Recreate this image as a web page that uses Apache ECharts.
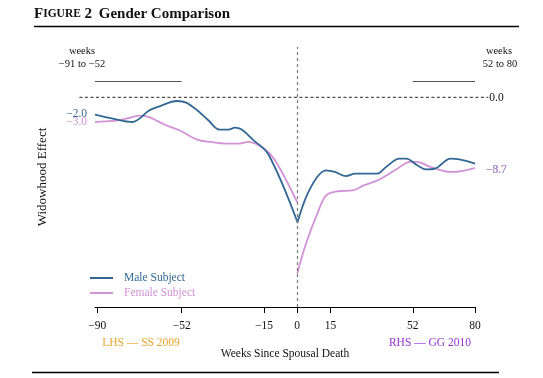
<!DOCTYPE html>
<html>
<head>
<meta charset="utf-8">
<script src="https://cdn.jsdelivr.net/npm/echarts@6/dist/echarts.min.js"></script>
<style>
html,body{margin:0;padding:0;background:#fff;}
#c{width:543px;height:378px;}
</style>
</head>
<body>
<div id="c"></div>
<script>
// ---- data ----
const xTicks = [-90, -52, -15, 0, 15, 52, 80];
const maleLhsWeeks = [-91, -83, -74, -71, -67, -62, -54, -50, -45, -40, -35, -31, -28, -25, -20, -13, 0];
const maleLhs = [-2.06, -2.54, -2.94, -2.54, -1.63, -1.07, -0.44, -0.63, -1.55, -2.74, -3.85, -3.85, -3.61, -3.85, -5.04, -6.79, -14.8];
const maleRhsWeeks = [0, 4, 9, 13, 17, 22, 26, 36, 40, 46, 49, 54, 58, 62, 69, 73, 80];
const maleRhs = [-15.0, -11.9, -9.5, -8.7, -8.9, -9.4, -9.1, -9.1, -8.3, -7.3, -7.3, -8.1, -8.6, -8.5, -7.3, -7.4, -7.9];
const femaleLhsWeeks = [-91, -83, -77, -71, -67, -59, -53, -45, -39, -32, -26, -22, -15, -10, 0];
const femaleLhs = [-2.94, -2.82, -2.54, -2.18, -2.34, -3.33, -3.93, -5.04, -5.32, -5.51, -5.51, -5.32, -6.11, -7.5, -12.5];
const femaleRhsWeeks = [0, 4, 9, 13, 18, 25, 30, 37, 44, 51, 54, 60, 69, 74, 80];
const femaleRhs = [-21.0, -17.4, -13.9, -11.7, -11.2, -11.1, -10.5, -9.8, -8.7, -7.7, -7.7, -8.3, -8.9, -8.8, -8.4];
const startLabels = { male: -2.0, female: -3.0 };
const endLabels = { male: -8.7, female: -8.7 };
const periodBarLevel = 1.9;
const periods = [[-91, -52], [52, 80]];
const zeroSpan = [-98, 86];

// ---- style ----
const SERIF = '"Liberation Serif", "DejaVu Serif", serif';
const BLUE = '#336894';
const PINK = '#d292d6';
const fmt = v => (v < 0 ? '\u2212' : '') + Math.abs(v).toFixed(1);
const fmtInt = v => (v < 0 ? '\u2212' : '') + Math.abs(v);

const zip = (a, b) => a.map((x, i) => [x, b[i]]);

const chart = echarts.init(document.getElementById('c'), null, { renderer: 'canvas' });

function lineSeries(name, data, color, extra) {
  return Object.assign({
    type: 'line', name, data, smooth: 0.35, symbol: 'none',
    lineStyle: { color, width: 1.8 }, itemStyle: { color },
    z: 3
  }, extra || {});
}

function labelPoint(coord, text, color, pos) {
  return {
    coord, value: text, symbolSize: 0,
    label: { show: true, position: pos, distance: pos === 'left' ? 8 : 11, formatter: text, color, fontFamily: SERIF, fontSize: 11.5 }
  };
}

const option = {
  animation: false,
  backgroundColor: '#fff',
  grid: { left: 95, right: 68, top: 47, bottom: 71 },
  legend: {
    orient: 'vertical', left: 90, top: 272, padding: 0,
    icon: 'rect',
    itemWidth: 23, itemHeight: 2, itemGap: 3,
    textStyle: { fontFamily: SERIF, fontSize: 11.5, padding: [0, 0, 0, 6] },
    data: [
      { name: 'Male Subject', textStyle: { color: BLUE } },
      { name: 'Female Subject', textStyle: { color: PINK } }
    ]
  },
  xAxis: {
    type: 'value', min: -91, max: 80,
    axisLine: { onZero: false, lineStyle: { color: '#000', width: 1 } },
    axisTick: { customValues: xTicks, length: 6, lineStyle: { color: '#000' } },
    axisLabel: { customValues: xTicks, formatter: fmtInt, fontFamily: SERIF, fontSize: 11.5, color: '#111', margin: 13 },
    splitLine: { show: false },
    name: 'Weeks Since Spousal Death', nameLocation: 'middle', nameGap: 41,
    nameTextStyle: { fontFamily: SERIF, fontSize: 11.5, color: '#111' }
  },
  yAxis: {
    type: 'value', min: -25, max: 6,
    axisLine: { show: false }, axisTick: { show: false }, axisLabel: { show: false }, splitLine: { show: false },
    name: 'Widowhood Effect', nameLocation: 'middle', nameGap: 46,
    nameTextStyle: { fontFamily: SERIF, fontSize: 13, color: '#111' }
  },
  series: [
    lineSeries('Male Subject', zip(maleLhsWeeks, maleLhs), BLUE, {
      markLine: {
        silent: true, symbol: 'none', label: { show: false },
        lineStyle: { color: '#777', type: [3, 3], width: 1.2 },
        data: [{ xAxis: 0 }]
      },
      markPoint: { data: [labelPoint([maleLhsWeeks[0], startLabels.male], fmt(startLabels.male), BLUE, 'left')] }
    }),
    lineSeries('Male Subject', zip(maleRhsWeeks, maleRhs), BLUE, {
      markPoint: { data: [labelPoint([maleRhsWeeks[maleRhsWeeks.length - 1], endLabels.male], fmt(endLabels.male), BLUE, 'right')] },
      markLine: {
        silent: true, symbol: 'none', label: { show: false },
        lineStyle: { color: '#555', type: 'solid', width: 1 },
        data: periods.map(p => [{ coord: [p[0], periodBarLevel] }, { coord: [p[1], periodBarLevel] }])
      }
    }),
    lineSeries('Female Subject', zip(femaleLhsWeeks, femaleLhs), PINK, {
      z: 2,
      markPoint: { data: [labelPoint([femaleLhsWeeks[0], startLabels.female], fmt(startLabels.female), PINK, 'left')] }
    }),
    lineSeries('Female Subject', zip(femaleRhsWeeks, femaleRhs), PINK, {
      z: 2,
      markPoint: { data: [labelPoint([femaleRhsWeeks[femaleRhsWeeks.length - 1], endLabels.female], fmt(endLabels.female), PINK, 'right')] }
    })
  ]
};
chart.setOption(option);

// ---- annotations computed through the axes ----
const zA = chart.convertToPixel({ gridIndex: 0 }, [zeroSpan[0], 0]);
const zB = chart.convertToPixel({ gridIndex: 0 }, [zeroSpan[1], 0]);
const txt = (x, y, text, color, size, align, extra) => ({
  type: 'text', x, y, silent: true,
  style: Object.assign({ text, fill: color, font: size + 'px ' + SERIF, textAlign: align || 'left', textVerticalAlign: 'middle' }, extra || {})
});

chart.setOption({
  graphic: [
    // title
    {
      type: 'text', left: 34, top: 7, silent: true,
      style: {
        text: '{a|F}{s|IGURE}{a| 2}  {b|Gender Comparison}',
        rich: {
          a: { font: 'bold 15px ' + SERIF, fill: '#111' },
          s: { font: 'bold 11.5px ' + SERIF, fill: '#111' },
          b: { font: 'bold 15px ' + SERIF, fill: '#111' }
        }
      }
    },
    { type: 'line', silent: true, shape: { x1: 34, y1: 26.5, x2: 519, y2: 26.5 }, style: { stroke: '#000', lineWidth: 1.3 } },
    { type: 'line', silent: true, shape: { x1: 32, y1: 372.5, x2: 499, y2: 372.5 }, style: { stroke: '#000', lineWidth: 1.3 } },
    // zero line
    { type: 'line', silent: true, z: 1, shape: { x1: zA[0], y1: zA[1], x2: zB[0], y2: zB[1] }, style: { stroke: '#222', lineWidth: 1, lineDash: [3, 2.5] } },
    txt(zB[0] + 1, zB[1] + 1, '0.0', '#111', 11.5, 'left'),
    // period texts
    txt(82, 51, 'weeks', '#111', 10.5, 'center'),
    txt(82, 64, '\u221291 to \u221252', '#111', 10.5, 'center'),
    txt(499, 51, 'weeks', '#111', 10.5, 'center'),
    txt(500, 64, '52 to 80', '#111', 10.5, 'center'),
    // sources
    txt(141, 343, 'LHS \u2014 SS 2009', '#e5a52c', 11.5, 'center'),
    txt(430, 343, 'RHS \u2014 GG 2010', '#9333d6', 11.5, 'center')
  ]
});
</script>
</body>
</html>
